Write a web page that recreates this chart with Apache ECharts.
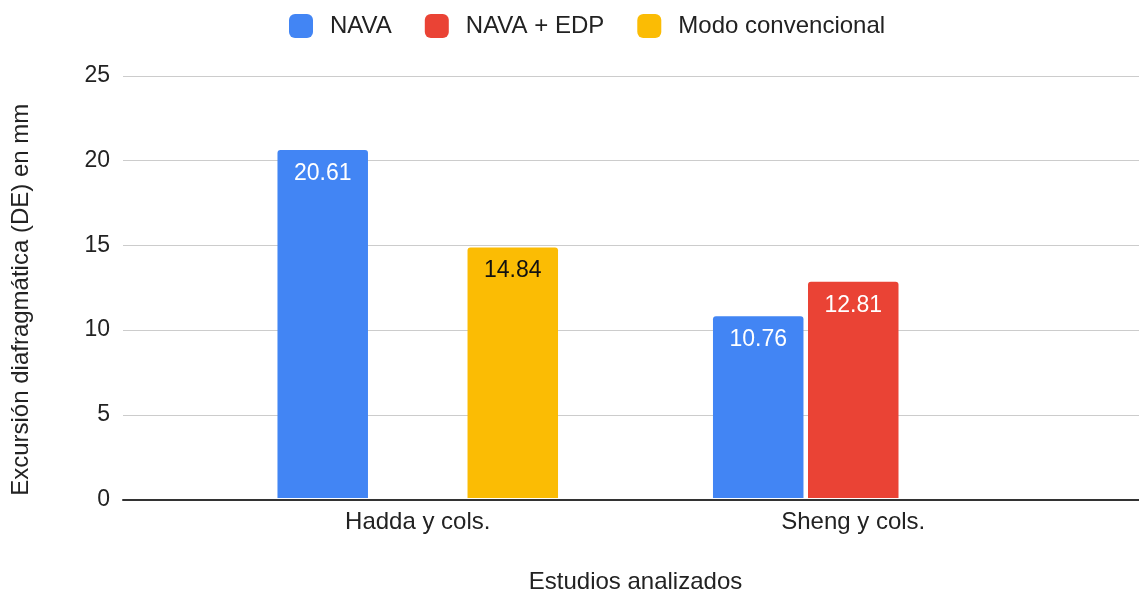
<!DOCTYPE html>
<html>
<head>
<meta charset="utf-8">
<script src="https://cdn.jsdelivr.net/npm/echarts@6/dist/echarts.min.js"></script>
<style>
  html, body { margin: 0; padding: 0; background: #fff; }
  #chart { width: 1139px; height: 599px; }
</style>
</head>
<body>
<div id="chart"></div>
<script>
// datos del gráfico
var categorias = ['Hadda y cols.', 'Sheng y cols.'];
var nava = [20.61, 10.76];
var navaEdp = ['-', 12.81];
var modoConvencional = [14.84, '-'];
var yTicks = { min: 0, max: 25, interval: 5 };

var fuente = '"Liberation Sans", Arial, sans-serif';
var chart = echarts.init(document.getElementById('chart'));

function etiqueta(color) {
  return {
    show: true,
    position: 'insideTop',
    distance: 12,
    color: color,
    fontSize: 23,
    fontFamily: fuente
  };
}

var option = {
  backgroundColor: '#fff',
  legend: {
    left: 284,
    top: 9,
    itemWidth: 24,
    itemHeight: 24,
    itemGap: 33,
    icon: 'roundRect',
    textStyle: { fontSize: 24, color: '#222', fontFamily: fuente, padding: [0, 0, 0, 12] },
    data: ['NAVA', 'NAVA + EDP', 'Modo convencional']
  },
  grid: [
    { left: 123, right: 0, top: 76, height: 423.5 },
    { left: 200, right: 68, top: 76, height: 423.5 }
  ],
  xAxis: [
    {
      // solo para la línea base que cruza todo el ancho
      type: 'value', gridIndex: 0, min: 0, max: 1,
      axisLine: { show: true, lineStyle: { color: '#333', width: 2 } },
      axisTick: { show: false }, axisLabel: { show: false }, splitLine: { show: false }
    },
    {
      type: 'category', gridIndex: 1, data: categorias,
      axisLine: { show: false }, axisTick: { show: false },
      axisLabel: { fontSize: 24, color: '#222', fontFamily: fuente, margin: 12 },
      name: 'Estudios analizados', nameLocation: 'middle', nameGap: 72,
      nameTextStyle: { fontSize: 24, color: '#222', fontFamily: fuente }
    }
  ],
  yAxis: [
    {
      type: 'value', gridIndex: 0, min: yTicks.min, max: yTicks.max, interval: yTicks.interval,
      axisLine: { show: false }, axisTick: { show: false },
      axisLabel: { fontSize: 23, color: '#222', fontFamily: fuente, margin: 13 },
      splitLine: { lineStyle: { color: '#ccc', width: 1 } },
      name: 'Excursión diafragmática (DE) en mm', nameLocation: 'middle', nameGap: 90,
      nameTextStyle: { fontSize: 24, color: '#222', fontFamily: fuente, padding: [0, 24, 0, 0] }
    },
    {
      type: 'value', gridIndex: 1, min: yTicks.min, max: yTicks.max, interval: yTicks.interval,
      show: false
    }
  ],
  series: [
    {
      name: 'NAVA', type: 'bar', xAxisIndex: 1, yAxisIndex: 1, data: nava,
      barWidth: 90.5, barGap: '5%',
      itemStyle: { color: '#4285F4', borderRadius: [3, 3, 0, 0] },
      label: etiqueta('#fff')
    },
    {
      name: 'NAVA + EDP', type: 'bar', xAxisIndex: 1, yAxisIndex: 1, data: navaEdp,
      barWidth: 90.5, barGap: '5%',
      itemStyle: { color: '#EA4335', borderRadius: [3, 3, 0, 0] },
      label: etiqueta('#fff')
    },
    {
      name: 'Modo convencional', type: 'bar', xAxisIndex: 1, yAxisIndex: 1, data: modoConvencional,
      barWidth: 90.5, barGap: '5%',
      itemStyle: { color: '#FBBC04', borderRadius: [3, 3, 0, 0] },
      label: etiqueta('#111')
    }
  ]
};

chart.setOption(option);
</script>
</body>
</html>
